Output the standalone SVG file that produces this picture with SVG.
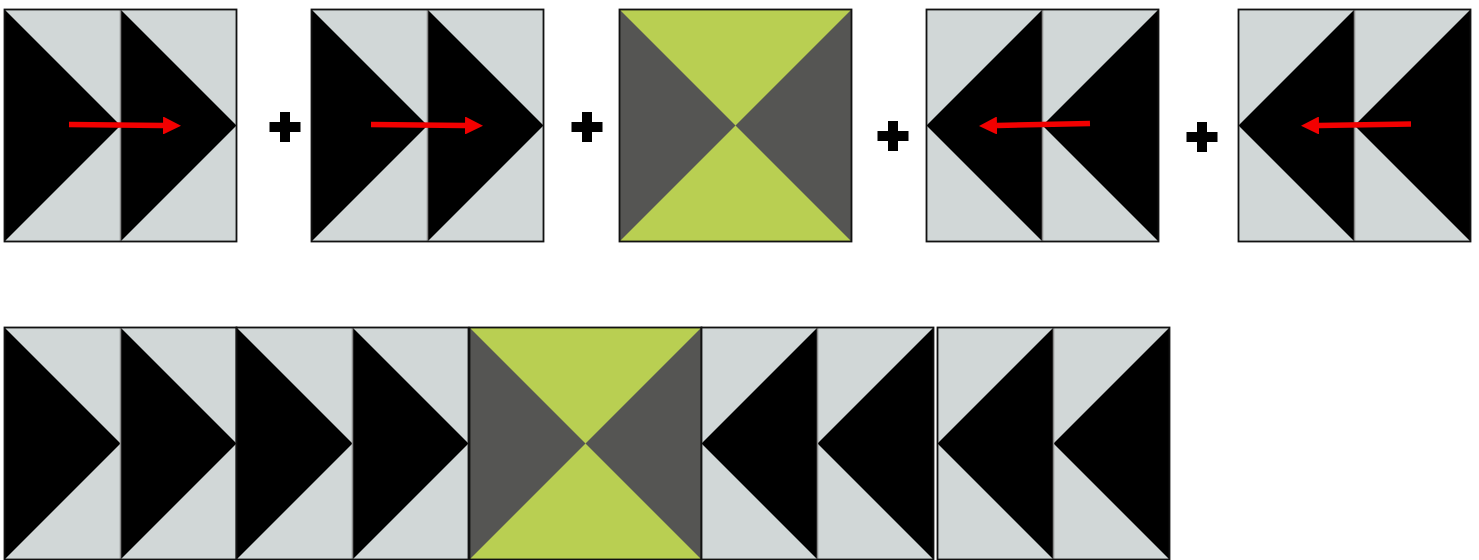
<svg xmlns="http://www.w3.org/2000/svg" width="1479" height="560" viewBox="0 0 1479 560">
<style>
.bg{fill:#d1d7d7}
.tri{fill:#000}
.div{stroke:#8a8a8a;stroke-width:1.5}
.frame{fill:none;stroke:#111;stroke-width:1.8}
.gbg{fill:#b9cf52}
.gtri{fill:#555553}
.arr{stroke:#f20000;stroke-width:5.5;fill:none}
.plus{fill:#000}
</style>
<defs>
<marker id="ah" markerUnits="userSpaceOnUse" markerWidth="18" markerHeight="18" viewBox="0 0 17 17" refX="0" refY="8.5" orient="auto">
<path d="M0,0 L17,8.5 L0,17 Z" fill="#f20000"/>
</marker>
<g id="right">
<rect class="bg" x="0" y="0" width="232" height="232"/>
<polygon class="tri" points="0,0 116,116 0,232"/>
<polygon class="tri" points="116,0 232,116 116,232"/>
<line class="div" x1="116" y1="0" x2="116" y2="232"/>
<rect class="frame" x="0" y="0" width="232" height="232"/>
</g>
<g id="left">
<rect class="bg" x="0" y="0" width="232" height="232"/>
<polygon class="tri" points="116,0 0,116 116,232"/>
<polygon class="tri" points="232,0 116,116 232,232"/>
<line class="div" x1="116" y1="0" x2="116" y2="232"/>
<rect class="frame" x="0" y="0" width="232" height="232"/>
</g>
<g id="hour">
<rect class="gbg" x="0" y="0" width="232" height="232"/>
<polygon class="gtri" points="0,0 116,116 0,232"/>
<polygon class="gtri" points="232,0 116,116 232,232"/>
<rect class="frame" x="0" y="0" width="232" height="232"/>
</g>
<path id="plusShape" d="M-5,-15 H5 V-5 H15.5 V5 H5 V15 H-5 V5 H-15.5 V-5 H-5 Z"/>
</defs>

<g id="top-block-1"><use href="#right" x="4.5" y="9.5"/></g>
<g id="top-block-2"><use href="#right" x="311.5" y="9.5"/></g>
<g id="top-block-3"><use href="#hour" x="619.5" y="9.5"/></g>
<g id="top-block-4"><use href="#left" x="926.5" y="9.5"/></g>
<g id="top-block-5"><use href="#left" x="1238.5" y="9.5"/></g>

<g id="plus-1"><use href="#plusShape" class="plus" x="285" y="127"/></g>
<g id="plus-2"><use href="#plusShape" class="plus" x="587" y="127"/></g>
<g id="plus-3"><use href="#plusShape" class="plus" x="893" y="136"/></g>
<g id="plus-4"><use href="#plusShape" class="plus" x="1202" y="137"/></g>

<g id="bottom-block-1"><use href="#right" x="4.5" y="327.5"/></g>
<g id="bottom-block-2"><use href="#right" x="236.5" y="327.5"/></g>
<g id="bottom-block-3"><use href="#hour" x="469.5" y="327.5"/></g>
<g id="bottom-block-4"><use href="#left" x="701.5" y="327.5"/></g>
<g id="bottom-block-5"><use href="#left" x="937.5" y="327.5"/></g>

<g id="connectors">
<line class="arr" x1="69" y1="124.5" x2="163" y2="125.5" marker-end="url(#ah)"/>
<line class="arr" x1="371" y1="124.5" x2="465" y2="125.5" marker-end="url(#ah)"/>
<line class="arr" x1="1090" y1="123.5" x2="997" y2="125.5" marker-end="url(#ah)"/>
<line class="arr" x1="1411" y1="124" x2="1319" y2="125.5" marker-end="url(#ah)"/>
</g>
</svg>
